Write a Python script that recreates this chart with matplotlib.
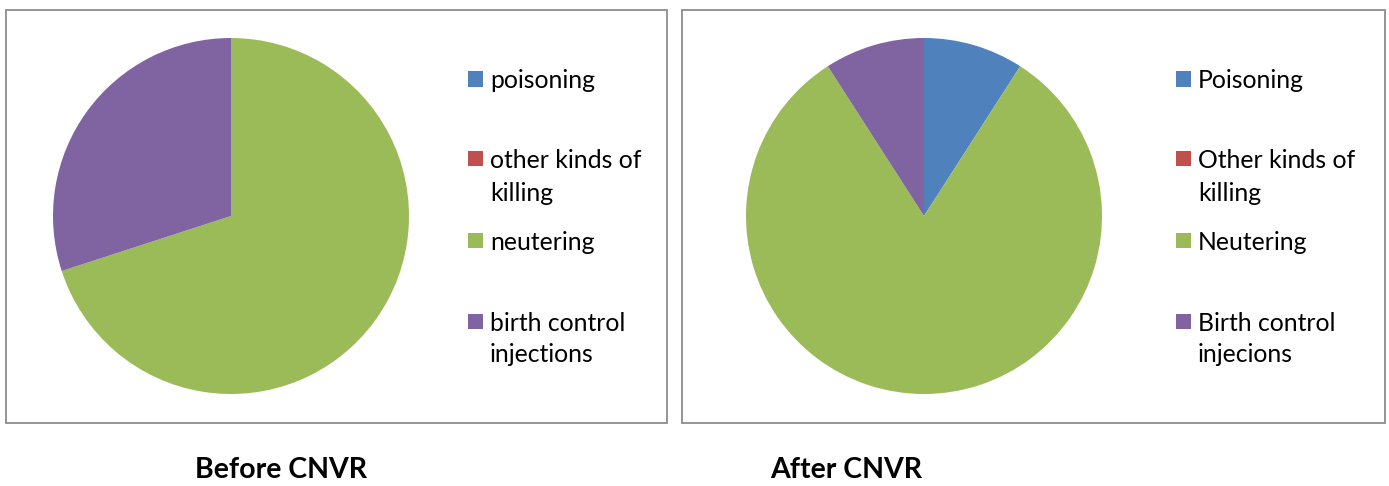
import matplotlib
matplotlib.use("Agg")
import matplotlib.pyplot as plt
from matplotlib.patches import Rectangle

categories_before = ["poisoning", "other kinds of\nkilling", "neutering", "birth control\ninjections"]
categories_after = ["Poisoning", "Other kinds of\nkilling", "Neutering", "Birth control\ninjecions"]
values_before = [0, 0, 7, 3]
values_after = [1, 0, 9, 1]
colors = ["#4F81BD", "#C0504D", "#9BBB59", "#8064A2"]
titles = ["Before CNVR", "After CNVR"]

W, H = 1389, 486
fig = plt.figure(figsize=(W / 100, H / 100), dpi=100)
plt.rcParams['font.family'] = ['Lato', 'DejaVu Sans']

def fx(x):
    return x / W

def fy(y):
    return 1 - y / H

panels = [
    dict(frame=(6, 10, 667, 423), cx=231, cy=216, r=178, leg_x=468, title_x=281,
         cats=categories_before, vals=values_before, title=titles[0]),
    dict(frame=(682, 10, 1385, 423), cx=924, cy=216, r=178, leg_x=1176, title_x=846,
         cats=categories_after, vals=values_after, title=titles[1]),
]
row_y = [79, 159, 240, 321]
line_gap = 32

for p in panels:
    x0, y0, x1, y1 = p["frame"]
    fig.patches.append(Rectangle((fx(x0), fy(y1)), fx(x1 - x0), (y1 - y0) / H,
                                 transform=fig.transFigure, fill=False,
                                 edgecolor="#8C8C8C", linewidth=1.3))
    r = p["r"]
    ax = fig.add_axes([fx(p["cx"] - r), fy(p["cy"] + r), fx(2 * r), 2 * r / H])
    ax.pie(p["vals"], colors=colors, startangle=90, counterclock=False,
           radius=1.0, wedgeprops=dict(linewidth=0))
    ax.set_xlim(-1, 1)
    ax.set_ylim(-1, 1)
    ax.set_aspect("equal")
    ax.axis("off")
    sq = 15
    for i, (lab, col) in enumerate(zip(p["cats"], colors)):
        yc = row_y[i]
        fig.patches.append(Rectangle((fx(p["leg_x"]), fy(yc + sq / 2)), fx(sq), sq / H,
                                     transform=fig.transFigure, facecolor=col,
                                     edgecolor="none"))
        for j, line in enumerate(lab.split("\n")):
            fig.text(fx(p["leg_x"] + 22), fy(yc + j * line_gap), line,
                     fontsize=17.8, color="#000000", va="center_baseline", ha="left")
    fig.text(fx(p["title_x"]), fy(470), p["title"], fontsize=20.5, fontweight="bold",
             ha="center", va="center", color="#000000")

fig.savefig("out.png", dpi=100, facecolor="white")
